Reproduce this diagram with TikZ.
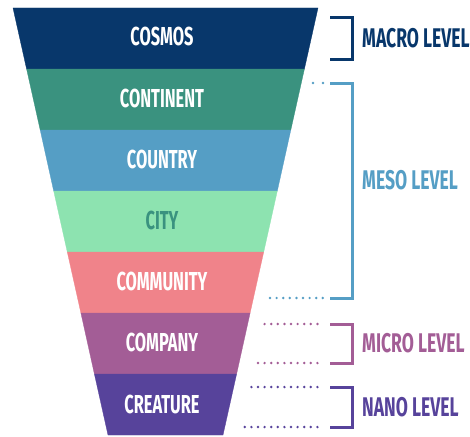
\documentclass[tikz,border=0pt]{standalone}
\usepackage{fontspec}
\setmainfont[FakeStretch=0.63]{Fira Sans}
\newfontfamily\levelfont[FakeStretch=0.65]{Fira Sans}
\usetikzlibrary{positioning}

\definecolor{cosmos}{HTML}{08376B}
\definecolor{continent}{HTML}{3A927F}
\definecolor{country}{HTML}{559EC5}
\definecolor{city}{HTML}{8DE3B0}
\definecolor{community}{HTML}{F0838A}
\definecolor{company}{HTML}{A35D96}
\definecolor{creature}{HTML}{57439B}
\definecolor{citytext}{HTML}{3A927F}

\tikzset{
  band/.style={fill=#1, draw=#1, line width=0.3pt},
  bandlabel/.style={font=\bfseries\fontsize{26}{26}\selectfont, text=white},
  levellabel/.style={font=\levelfont\bfseries\fontsize{27}{27}\selectfont, text=#1, anchor=west, inner xsep=0pt},
  bracket/.style={draw=#1, line width=3pt, line join=miter},
  dots/.style={draw=#1, line width=2.7pt, line cap=round, dash pattern=on 0pt off 6.6pt},
}

\begin{document}
\begin{tikzpicture}[x=1pt, y=-1pt]
      \useasboundingbox (0,0) rectangle (470,436);

      % Define the corners of the funnel
      \coordinate (l0) at (13,8);     \coordinate (r0) at (318,8);
      \coordinate (l1) at (26.6,69);  \coordinate (r1) at (304.4,69);
      \coordinate (l2) at (40.2,130); \coordinate (r2) at (290.8,130);
      \coordinate (l3) at (53.7,191); \coordinate (r3) at (277.3,191);
      \coordinate (l4) at (67.3,252); \coordinate (r4) at (263.7,252);
      \coordinate (l5) at (80.9,313); \coordinate (r5) at (250.1,313);
      \coordinate (l6) at (94.4,374); \coordinate (r6) at (236.6,374);
      \coordinate (l7) at (108,435);  \coordinate (r7) at (223,435);

      % Draw the bands of the funnel
      \path[band=cosmos] (l0) -- (r0) -- (r1) -- (l1) -- cycle;
      \path[band=continent] (l1) -- (r1) -- (r2) -- (l2) -- cycle;
      \path[band=country] (l2) -- (r2) -- (r3) -- (l3) -- cycle;
      \path[band=city] (l3) -- (r3) -- (r4) -- (l4) -- cycle;
      \path[band=community] (l4) -- (r4) -- (r5) -- (l5) -- cycle;
      \path[band=company] (l5) -- (r5) -- (r6) -- (l6) -- cycle;
      \path[band=creature] (l6) -- (r6) -- (r7) -- (l7) -- cycle;

      % Define the labels inside the funnel
      \node[bandlabel] (cosmos) at (162,36.5) {COSMOS};
      \node[bandlabel] (continent) at (162,98.5) {CONTINENT};
      \node[bandlabel] (country) at (162,159.5) {COUNTRY};
      \node[bandlabel, text=citytext] (city) at (162,220.5) {CITY};
      \node[bandlabel] (community) at (162,281.5) {COMMUNITY};
      \node[bandlabel] (company) at (162,342.5) {COMPANY};
      \node[bandlabel] (creature) at (162,404.5) {CREATURE};

      % Define the ends of the brackets
      \coordinate (ma1) at (330,18);  \coordinate (ma2) at (352,18);
      \coordinate (ma3) at (352,59);  \coordinate (ma4) at (330,59);
      \coordinate (me1) at (330,83);  \coordinate (me2) at (352,83);
      \coordinate (me3) at (352,298); \coordinate (me4) at (330,298);
      \coordinate (mi1) at (330,324); \coordinate (mi2) at (352,324);
      \coordinate (mi3) at (352,363); \coordinate (mi4) at (330,363);
      \coordinate (na1) at (330,387); \coordinate (na2) at (352,387);
      \coordinate (na3) at (352,427); \coordinate (na4) at (330,427);

      % Draw the brackets
      \draw[bracket=cosmos] (ma1) -- (ma2) -- (ma3) -- (ma4);
      \draw[bracket=country] (me1) -- (me2) -- (me3) -- (me4);
      \draw[bracket=company] (mi1) -- (mi2) -- (mi3) -- (mi4);
      \draw[bracket=creature] (na1) -- (na2) -- (na3) -- (na4);

      % Draw the dotted leaders to the brackets
      \coordinate (dme1) at (313,83);   \coordinate (eme1) at (323.5,83);
      \coordinate (dme4) at (270,298);  \coordinate (eme4) at (323.5,298);
      \coordinate (dmi1) at (264.6,324);\coordinate (emi1) at (323.5,324);
      \coordinate (dmi4) at (258,363);  \coordinate (emi4) at (323.5,363);
      \coordinate (dna1) at (251.4,387);\coordinate (ena1) at (323.5,387);
      \coordinate (dna4) at (244.8,427);\coordinate (ena4) at (323.5,427);
      \draw[dots=country, dash pattern=on 0pt off 10pt] (dme1) -- (eme1);
      \draw[dots=country] (dme4) -- (eme4);
      \draw[dots=company] (dmi1) -- (emi1);
      \draw[dots=company] (dmi4) -- (emi4);
      \draw[dots=creature] (dna1) -- (ena1);
      \draw[dots=creature] (dna4) -- (ena4);

      % Define the level labels
      \node[levellabel=cosmos] (macro) at (362,38.5) {MACRO LEVEL};
      \node[levellabel=country] (meso) at (362,180) {MESO LEVEL};
      \node[levellabel=company] (micro) at (362,343.5) {MICRO LEVEL};
      \node[levellabel=creature] (nano) at (362,407) {NANO LEVEL};
\end{tikzpicture}
\end{document}
